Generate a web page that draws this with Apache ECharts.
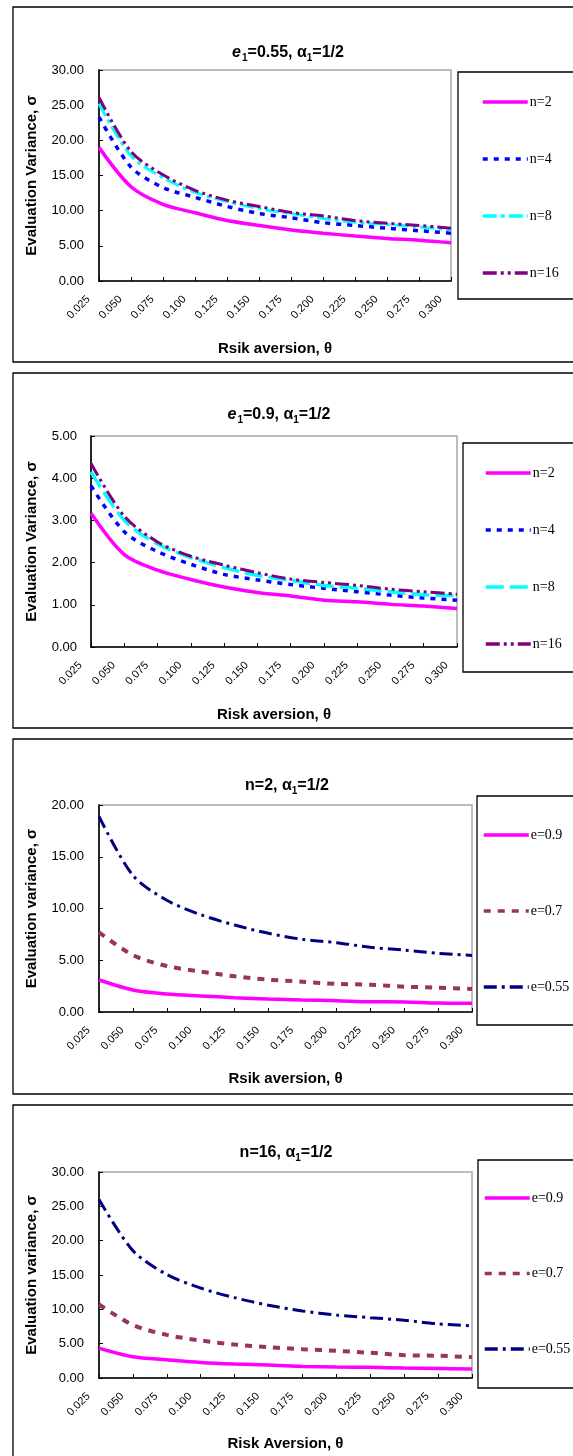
<!DOCTYPE html>
<html>
<head>
<meta charset="utf-8">
<script src="https://cdn.jsdelivr.net/npm/echarts@6/dist/echarts.min.js"></script>
<style>
  html, body { margin: 0; padding: 0; background: #fff; }
  body { width: 573px; height: 1456px; position: relative; overflow: hidden; }
  .panel { position: absolute; left: 0; width: 573px; }
</style>
</head>
<body>
<div id="p1" class="panel" style="top:0px;height:366px"></div>
<div id="p2" class="panel" style="top:366px;height:366px"></div>
<div id="p3" class="panel" style="top:732px;height:366px"></div>
<div id="p4" class="panel" style="top:1098px;height:358px"></div>
<script>
// ---------- data ----------
const theta = ['0.025','0.050','0.075','0.100','0.125','0.150','0.175','0.200','0.225','0.250','0.275','0.300'];

// Panel 1: e1=0.55
const p1Names = ['n=2', 'n=4', 'n=8', 'n=16'];
const p1_n2  = [19.0, 13.4, 10.9, 9.7, 8.6, 7.9, 7.25, 6.8, 6.4, 6.05, 5.8, 5.45];
const p1_n4  = [23.3, 16.2, 13.3, 11.9, 10.6, 9.6, 9.0, 8.3, 7.9, 7.5, 7.15, 6.8];
const p1_n8  = [25.2, 17.8, 14.7, 12.6, 11.3, 10.3, 9.6, 8.9, 8.35, 8.05, 7.7, 7.25];
const p1_n16 = [26.1, 18.4, 15.1, 12.9, 11.5, 10.6, 9.75, 9.25, 8.6, 8.2, 7.9, 7.5];

// Panel 2: e1=0.9
const p2Names = ['n=2', 'n=4', 'n=8', 'n=16'];
const p2_n2  = [3.17, 2.19, 1.82, 1.60, 1.42, 1.29, 1.21, 1.11, 1.07, 1.01, 0.97, 0.91];
const p2_n4  = [3.82, 2.73, 2.26, 1.96, 1.72, 1.59, 1.48, 1.39, 1.31, 1.23, 1.16, 1.11];
const p2_n8  = [4.15, 3.00, 2.44, 2.12, 1.88, 1.70, 1.58, 1.46, 1.39, 1.31, 1.24, 1.22];
const p2_n16 = [4.35, 3.10, 2.49, 2.15, 1.94, 1.76, 1.61, 1.53, 1.46, 1.37, 1.31, 1.25];

// Panel 3: n=2
const p3Names = ['e=0.9', 'e=0.7', 'e=0.55'];
const p3_e09  = [3.09, 2.13, 1.74, 1.55, 1.38, 1.25, 1.16, 1.09, 0.99, 0.97, 0.86, 0.84];
const p3_e07  = [7.7, 5.5, 4.44, 3.9, 3.45, 3.12, 2.93, 2.71, 2.64, 2.45, 2.35, 2.22];
const p3_e055 = [18.9, 13.2, 10.8, 9.4, 8.4, 7.6, 7.02, 6.70, 6.25, 5.99, 5.67, 5.47];

// Panel 4: n=16
const p4Names = ['e=0.9', 'e=0.7', 'e=0.55'];
const p4_e09  = [4.35, 3.09, 2.66, 2.27, 2.03, 1.88, 1.69, 1.59, 1.55, 1.45, 1.40, 1.30];
const p4_e07  = [10.7, 7.73, 6.28, 5.46, 4.88, 4.49, 4.2, 3.96, 3.67, 3.33, 3.24, 3.04];
const p4_e055 = [26.0, 18.55, 15.07, 13.1, 11.7, 10.6, 9.76, 9.18, 8.79, 8.41, 7.88, 7.6];

// ---------- styles ----------
const SANS = '"Liberation Sans", Arial, sans-serif';
const SERIF = '"Liberation Serif", "Times New Roman", serif';

const st = {
  magenta: { color: '#FF00FF', width: 3.5, type: 'solid' },
  blueDot: { color: '#0000FF', width: 3.5, type: [5, 6] },
  cyanDashDot: { color: '#00FFFF', width: 3, type: [14, 4, 4, 4] },
  cyanLong: { color: '#00FFFF', width: 3.5, type: [18, 6] },
  purple: { color: '#800080', width: 3, type: [14, 4, 3, 4, 3, 4] },
  maroon: { color: '#993366', width: 4, type: [7, 7] },
  navy: { color: '#000080', width: 3, type: [13, 5, 3, 5] }
};

function mkSeries(name, data, ls) {
  return {
    type: 'line', name: name, data: data, smooth: 0.3,
    symbol: 'none', showSymbol: false,
    lineStyle: { color: ls.color, width: ls.width, type: ls.type, cap: 'butt' },
    itemStyle: { color: ls.color },
    emphasis: { disabled: true }, animation: false
  };
}

function makePanel(id, cfg) {
  const chart = echarts.init(document.getElementById(id), null, { renderer: 'canvas' });
  const opt = {
    animation: false,
    backgroundColor: '#fff',
    graphic: [
      { type: 'rect', z: -1, shape: { x: 13, y: 7, width: 700, height: cfg.boxH },
        style: { fill: 'transparent', stroke: '#000', lineWidth: 1.3 } },
      { type: 'rect', z: -1, shape: { x: cfg.legBox[0], y: cfg.legBox[1], width: 200, height: cfg.legBox[2] },
        style: { fill: 'transparent', stroke: '#000', lineWidth: 1.3 } },
      { type: 'text', x: cfg.titleX, y: cfg.titleY,
        style: {
          text: cfg.title, align: 'center', verticalAlign: 'middle', textAlign: 'center', textVerticalAlign: 'middle',
          fill: '#000', fontFamily: SANS, fontWeight: 'bold', fontSize: 16,
          rich: {
            b: { fontFamily: SANS, fontWeight: 'bold', fontSize: 16, verticalAlign: 'bottom', padding: [0, 0, 3, 0], fill: '#000', color: '#000' },
            bi: { fontFamily: SANS, fontWeight: 'bold', fontStyle: 'italic', fontSize: 16, verticalAlign: 'bottom', padding: [0, 1, 3, 0], fill: '#000', color: '#000' },
            s: { fontFamily: SANS, fontWeight: 'bold', fontSize: 10, verticalAlign: 'bottom', padding: [0, 0, 0, 0], fill: '#000', color: '#000' }
          }
        } }
    ],
    legend: {
      orient: 'vertical', left: cfg.legLeft, top: cfg.legTop, padding: 0,
      itemWidth: 45, itemHeight: 14, itemGap: cfg.legGap,
      itemStyle: { opacity: 0 },
      lineStyle: { width: 3.5 },
      textStyle: { fontFamily: SERIF, fontSize: 14, color: '#000', padding: [0, 0, 0, -3] },
      data: cfg.names, selectedMode: false
    },
    grid: { left: cfg.grid[0], top: cfg.grid[1], width: cfg.grid[2], height: cfg.grid[3],
      show: true, borderColor: '#A8A8A8', borderWidth: 1.5, backgroundColor: 'transparent' },
    xAxis: {
      type: 'category', data: theta, boundaryGap: false,
      axisLine: { show: true, lineStyle: { color: '#000', width: 1.6 } },
      axisTick: { show: true, inside: true, length: 4, interval: 0, lineStyle: { color: '#000', width: 1 } },
      axisLabel: { interval: 0, rotate: 45, fontFamily: SANS, fontSize: 11, color: '#000', margin: 6, padding: [0, 15, 0, 0] },
      splitLine: { show: false },
      name: cfg.xName, nameLocation: 'middle', nameGap: cfg.xGap,
      nameTextStyle: { fontFamily: SANS, fontWeight: 'bold', fontSize: 15, color: '#000' }
    },
    yAxis: {
      type: 'value', min: 0, max: cfg.yMax, interval: cfg.yInt,
      axisLine: { show: true, lineStyle: { color: '#000', width: 1.6 } },
      axisTick: { show: true, inside: true, length: 4, lineStyle: { color: '#000', width: 1 } },
      axisLabel: { fontFamily: SANS, fontSize: 13, color: '#000', margin: cfg.yMargin, formatter: v => v.toFixed(2) },
      splitLine: { show: false },
      name: cfg.yName, nameLocation: 'middle', nameGap: cfg.yGap, nameRotate: 90,
      nameTextStyle: { fontFamily: SANS, fontWeight: 'bold', fontSize: 15, color: '#000' }
    },
    series: cfg.series
  };
  chart.setOption(opt);
}

makePanel('p1', {
  boxH: 355, legBox: [458, 72, 227], titleX: 288, titleY: 54,
  title: '{bi|e}{s|1}{b|=0.55, α}{s|1}{b|=1/2}',
  legLeft: 481, legTop: 95, legGap: 43, names: p1Names,
  grid: [99, 70, 352, 211], xName: 'Rsik aversion, θ', xGap: 60,
  yMax: 30, yInt: 5, yMargin: 15, yName: 'Evaluation Variance, σ', yGap: 60,
  series: [
    mkSeries(p1Names[0], p1_n2, st.magenta),
    mkSeries(p1Names[1], p1_n4, st.blueDot),
    mkSeries(p1Names[2], p1_n8, st.cyanDashDot),
    mkSeries(p1Names[3], p1_n16, st.purple)
  ]
});

makePanel('p2', {
  boxH: 355, legBox: [463, 77, 229], titleX: 279, titleY: 50,
  title: '{bi|e}{s|1}{b|=0.9, α}{s|1}{b|=1/2}',
  legLeft: 484, legTop: 100, legGap: 43, names: p2Names,
  grid: [91, 70, 366, 211], xName: 'Risk aversion, θ', xGap: 60,
  yMax: 5, yInt: 1, yMargin: 14, yName: 'Evaluation Variance, σ', yGap: 52,
  series: [
    mkSeries(p2Names[0], p2_n2, st.magenta),
    mkSeries(p2Names[1], p2_n4, st.blueDot),
    mkSeries(p2Names[2], p2_n8, st.cyanLong),
    mkSeries(p2Names[3], p2_n16, st.purple)
  ]
});

makePanel('p3', {
  boxH: 355, legBox: [477, 64, 229], titleX: 287, titleY: 55,
  title: '{b|n=2, α}{s|1}{b|=1/2}',
  legLeft: 482, legTop: 96, legGap: 62, names: p3Names,
  grid: [99, 73, 373, 207], xName: 'Rsik aversion, θ', xGap: 59,
  yMax: 20, yInt: 5, yMargin: 15, yName: 'Evaluation variance, σ', yGap: 60,
  series: [
    mkSeries(p3Names[0], p3_e09, st.magenta),
    mkSeries(p3Names[1], p3_e07, st.maroon),
    mkSeries(p3Names[2], p3_e055, st.navy)
  ]
});

makePanel('p4', {
  boxH: 500, legBox: [478, 62, 228], titleX: 286, titleY: 56,
  title: '{b|n=16, α}{s|1}{b|=1/2}',
  legLeft: 483, legTop: 93, legGap: 61.5, names: p4Names,
  grid: [99, 74, 373, 207], xName: 'Risk Aversion, θ', xGap: 58,
  yMax: 30, yInt: 5, yMargin: 15, yName: 'Evaluation variance, σ', yGap: 60,
  series: [
    mkSeries(p4Names[0], p4_e09, st.magenta),
    mkSeries(p4Names[1], p4_e07, st.maroon),
    mkSeries(p4Names[2], p4_e055, st.navy)
  ]
});
</script>
</body>
</html>
